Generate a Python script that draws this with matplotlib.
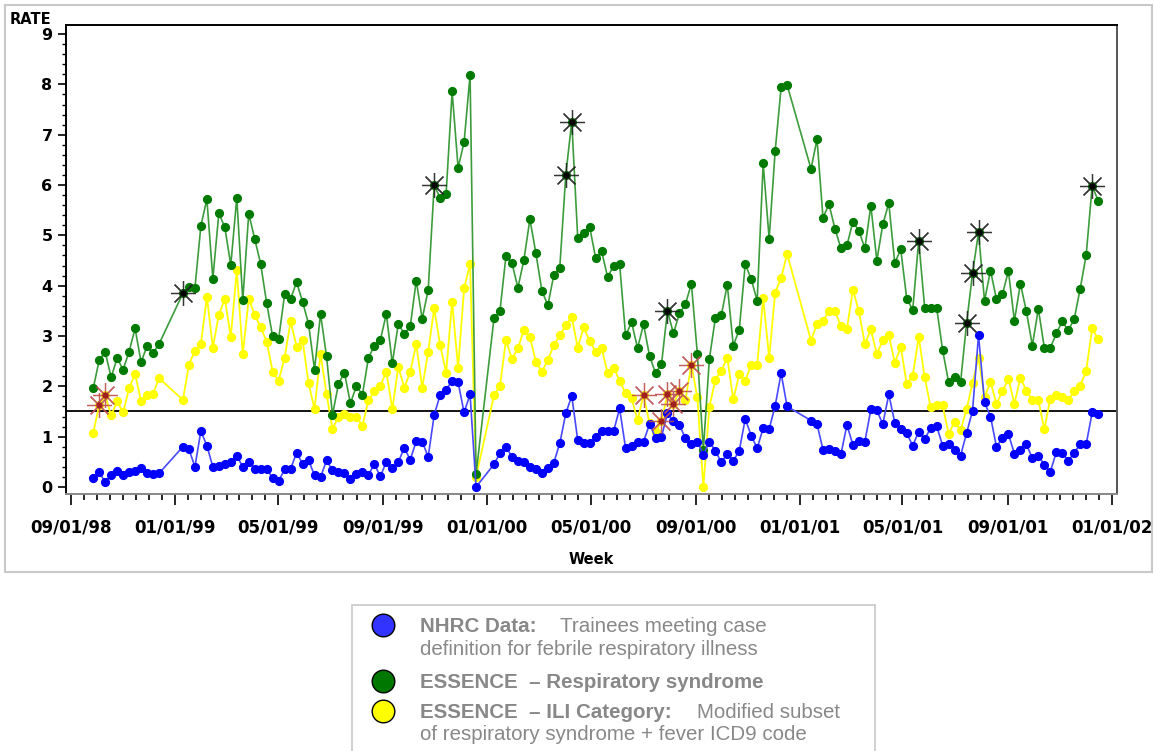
import datetime as dt
import numpy as np
import matplotlib
matplotlib.use("Agg")
import matplotlib.pyplot as plt
import matplotlib.dates as mdates
from matplotlib.lines import Line2D
from matplotlib.patches import Rectangle
from matplotlib.ticker import FixedLocator

# Weekly surveillance rates, one slot per week starting 1998-09-27 (None = no report)
first_week = dt.date(1998, 9, 27)

nhrc_rate = [
    0.17, 0.30, 0.09, 0.24, 0.32, 0.24, 0.29, 0.32, 0.37, 0.27, 0.25, 0.27,
    None, None, None,
    0.80, 0.75, 0.40, 1.11, 0.82, 0.40, 0.42, 0.45, 0.49, 0.62, 0.40, 0.50, 0.36, 0.36, 0.36, 0.17, 0.12,
    0.35, 0.36, 0.68, 0.46, 0.53, 0.23, 0.19, 0.53, 0.33, 0.29, 0.28, 0.16, 0.25, 0.29, 0.24, 0.45,
    0.21, 0.50, 0.38, 0.49, 0.78, 0.54, 0.91, 0.90, 0.60, 1.43, 1.83, 1.93, 2.11, 2.08, 1.48, 1.84, 0.00,
    None, None,
    0.45, 0.67, 0.80, 0.60, 0.52, 0.50, 0.40, 0.35, 0.27, 0.38, 0.48, 0.87, 1.46, 1.81, 0.93, 0.87,
    0.87, 0.99, 1.11, 1.11, 1.11, 1.56, 0.77, 0.82, 0.90, 0.90, 1.25, 0.98, 1.00, 1.46, 1.31, 1.23,
    0.97, 0.85, 0.90,
    0.64, 0.90, 0.72, 0.49, 0.66, 0.52, 0.72, 1.35, 1.02, 0.77, 1.17, 1.15, 1.61, 2.26, 1.60,
    None, None, None,
    1.32, 1.25, 0.74, 0.76, 0.72, 0.65, 1.23, 0.84, 0.92, 0.90, 1.54, 1.52, 1.25, 1.84, 1.28, 1.15, 1.07,
    0.82, 1.10, 0.95, 1.17, 1.21, 0.82, 0.85, 0.74, 0.62, 1.07, 1.51, 3.02, 1.68, 1.40, 0.80, 0.97,
    1.05, 0.66, 0.74, 0.85, 0.57, 0.62, 0.44, 0.30, 0.69, 0.68, 0.52, 0.68, 0.85, 0.85, 1.48, 1.44,
]

resp_rate = [
    1.96, 2.52, 2.68, 2.18, 2.56, 2.33, 2.69, 3.15, 2.48, 2.80, 2.66, 2.84,
    None, None, None,
    3.85, 3.98, 3.95, 5.19, 5.72, 4.14, 5.44, 5.16, 4.41, 5.75, 3.71, 5.43, 4.93, 4.43, 3.65, 2.99, 2.94,
    3.83, 3.74, 4.07, 3.68, 3.24, 2.33, 3.44, 2.60, 1.43, 2.05, 2.27, 1.66, 2.01, 1.83, 2.56, 2.81,
    2.92, 3.44, 2.46, 3.24, 3.04, 3.19, 4.10, 3.34, 3.92, 6.00, 5.74, 5.83, 7.86, 6.34, 6.85, 8.19, 0.25,
    None, None,
    3.35, 3.50, 4.59, 4.45, 3.96, 4.51, 5.32, 4.65, 3.90, 3.61, 4.21, 4.36, 6.20, 7.26, 4.94, 5.04,
    5.16, 4.55, 4.68, 4.17, 4.40, 4.43, 3.01, 3.27, 2.76, 3.23, 2.61, 2.26, 2.44, 3.50, 3.05, 3.45,
    3.63, 4.04, 2.64,
    0.74, 2.54, 3.35, 3.41, 4.02, 2.81, 3.12, 4.43, 4.13, 3.70, 6.43, 4.93, 6.67, 7.94, 7.99,
    None, None, None,
    6.32, 6.91, 5.35, 5.62, 5.13, 4.74, 4.80, 5.27, 5.09, 4.74, 5.59, 4.50, 5.22, 5.64, 4.45, 4.72, 3.74,
    3.52, 4.89, 3.56, 3.55, 3.56, 2.72, 2.08, 2.18, 2.08, 3.25, 4.25, 5.06, 3.70, 4.30, 3.73, 3.83,
    4.29, 3.30, 4.04, 3.49, 2.81, 3.54, 2.77, 2.76, 3.05, 3.29, 3.11, 3.34, 3.94, 4.61, 5.98, 5.69,
]

ili_rate = [
    1.07, 1.63, 1.82, 1.42, 1.70, 1.48, 1.96, 2.25, 1.70, 1.82, 1.85, 2.16,
    None, None, None,
    1.73, 2.43, 2.71, 2.84, 3.78, 2.77, 3.42, 3.74, 2.98, 4.31, 2.64, 3.74, 3.42, 3.17, 2.89, 2.29, 2.11,
    2.57, 3.29, 2.79, 2.92, 2.06, 1.55, 2.64, 1.85, 1.15, 1.40, 1.44, 1.40, 1.40, 1.21, 1.72, 1.90,
    2.01, 2.29, 1.55, 2.39, 1.97, 2.29, 2.84, 1.97, 2.69, 3.55, 2.82, 2.27, 3.68, 2.36, 3.95, 4.43, 0.20,
    None, None,
    1.82, 2.01, 2.92, 2.54, 2.76, 3.12, 2.98, 2.49, 2.29, 2.52, 2.82, 3.01, 3.22, 3.37, 2.77, 3.17,
    2.90, 2.69, 2.76, 2.26, 2.37, 2.11, 1.86, 1.76, 1.33, 1.82, 1.27, 1.09, 1.31, 1.84, 1.64, 1.91,
    1.73, 2.43, 1.78,
    0.00, 1.58, 2.13, 2.31, 2.57, 1.74, 2.24, 2.11, 2.43, 2.43, 3.75, 2.57, 3.86, 4.15, 4.63,
    None, None, None,
    2.91, 3.24, 3.29, 3.50, 3.50, 3.19, 3.14, 3.92, 3.49, 2.84, 3.13, 2.64, 2.92, 3.02, 2.47, 2.78, 2.05,
    2.21, 2.98, 2.18, 1.58, 1.62, 1.62, 1.05, 1.30, 1.13, 1.54, 2.07, 2.57, 1.78, 2.09, 1.65, 1.90,
    2.15, 1.65, 2.17, 1.91, 1.73, 1.72, 1.15, 1.75, 1.83, 1.78, 1.73, 1.90, 2.01, 2.31, 3.15, 2.94,
]

# Weeks flagged as alerts on each ESSENCE series
resp_alert_weeks = [15, 57, 79, 80, 96, 138, 146, 147, 148, 167]
ili_alert_weeks = [1, 2, 92, 95, 96, 97, 98, 100]

threshold = 1.5
x_tick_labels = ["09/01/98", "01/01/99", "05/01/99", "09/01/99", "01/01/00",
                 "05/01/00", "09/01/00", "01/01/01", "05/01/01", "09/01/01", "01/01/02"]
y_tick_labels = ["0", "1", "2", "3", "4", "5", "6", "7", "8", "9"]

W, H = 1154, 751


def fx(px):
    return px / W


def fy(py):
    return 1 - py / H


week_dates = [first_week + dt.timedelta(days=7 * i) for i in range(len(resp_rate))]


def series(values):
    pts = [(week_dates[i], v) for i, v in enumerate(values) if v is not None]
    return [p[0] for p in pts], [p[1] for p in pts]


fig = plt.figure(figsize=(W / 100, H / 100), dpi=100)
ax = fig.add_axes([fx(65.7), fy(494), fx(1116.7) - fx(65.7), fy(25) - fy(494)])

# threshold line
ax.axhline(threshold, color="black", lw=1.3, zorder=1)

yd, yv = series(ili_rate)
ax.plot(yd, yv, color="#ffff00", lw=1.3, marker="o", ms=5.6, mfc="#ffff00", mec="#ffff00", zorder=2)
gd, gv = series(resp_rate)
ax.plot(gd, gv, color="#3c9c3c", lw=1.2, marker="o", ms=5.6, mfc="#007a00", mec="#007a00", zorder=3)
bd, bv = series(nhrc_rate)
ax.plot(bd, bv, color="#4848ff", lw=1.2, marker="o", ms=5.6, mfc="#0000ff", mec="#0000ff", zorder=4)

# alert markers
rx = [week_dates[i] for i in ili_alert_weeks]
ry = [ili_rate[i] for i in ili_alert_weeks]
ax.plot(rx, ry, ls="none", marker=(8, 2, 0), ms=18, mew=0.9, mec="#c05050", alpha=0.9, zorder=5)
ax.plot(rx, ry, ls="none", marker="o", ms=3.5, mfc="#a02020", mec="#a02020", zorder=6)

sx = [week_dates[i] for i in resp_alert_weeks]
sy = [resp_rate[i] for i in resp_alert_weeks]
ax.plot(sx, sy, ls="none", marker=(8, 2, 0), ms=18, mew=0.9, mec="#202020", alpha=0.9, zorder=5)
ax.plot(sx, sy, ls="none", marker="o", ms=3.5, mfc="black", mec="black", zorder=6)

# axes limits
origin = dt.date(1998, 9, 1)
x0 = mdates.date2num(origin) - 6.2
x1 = mdates.date2num(origin) + 1223.7
ax.set_xlim(x0, x1)
ax.set_ylim(-0.14, 9.18)

major_dates = [dt.date(1998 + (8 + 4 * k) // 12, (8 + 4 * k) % 12 + 1, 1) for k in range(len(x_tick_labels))]
major_nums = mdates.date2num(major_dates)
minor_nums = []
for a, b in zip(major_nums[:-1], major_nums[1:]):
    minor_nums.extend(np.linspace(a, b, 9)[1:-1])
ax.xaxis.set_major_locator(FixedLocator(major_nums))
ax.xaxis.set_minor_locator(FixedLocator(minor_nums))
ax.set_xticklabels(x_tick_labels)

ax.yaxis.set_major_locator(FixedLocator(range(len(y_tick_labels))))
ax.set_yticklabels(y_tick_labels)
ax.yaxis.set_minor_locator(FixedLocator(np.arange(0.2, 9.0, 0.2)))

ax.tick_params(axis="x", which="major", direction="out", length=8, width=1.2, pad=10,
               labelsize=12, color="black")
ax.tick_params(axis="x", which="minor", direction="out", length=4.5, width=1.2, color="black")
ax.tick_params(axis="y", which="major", direction="out", length=5.5, width=1.2, pad=4,
               labelsize=11.5, color="black")
ax.tick_params(axis="y", which="minor", direction="out", length=2.6, width=1.0, color="black")
for lab in ax.get_xticklabels() + ax.get_yticklabels():
    lab.set_fontweight("bold")
    lab.set_family("DejaVu Sans")

for side, col in (("left", "black"), ("top", "black"), ("right", "#555555"), ("bottom", "#888888")):
    ax.spines[side].set_color(col)
    ax.spines[side].set_linewidth(1.4)

fig.text(fx(9.5), fy(20), "RATE", fontsize=10.5, fontweight="bold", ha="left", va="center")
fig.text(fx(591), fy(560), "Week", fontsize=10.5, fontweight="bold", ha="center", va="center")

# outer panel frame
fig.add_artist(Rectangle((fx(5), fy(572)), fx(1152) - fx(5), fy(5) - fy(572),
                         transform=fig.transFigure, fill=False, ec="#c8c8c8", lw=1.5))

# key box
fig.add_artist(Rectangle((fx(352), -0.01), fx(875) - fx(352), fy(605) + 0.01,
                         transform=fig.transFigure, fill=False, ec="#c8c8c8", lw=1.2))

key_items = [(625, "#3333ff"), (681, "#007700"), (711, "#ffff00")]
for yc, colr in key_items:
    fig.add_artist(Line2D([fx(383)], [fy(yc)], marker="o", ms=16.3, mfc=colr, mec="black",
                          mew=1.0, transform=fig.transFigure, ls="none"))

txt = dict(fontsize=14.8, family="Liberation Sans", color="#888888", va="baseline", ha="left")
fig.text(fx(420), fy(632), "NHRC Data:", fontweight="bold", **txt)
fig.text(fx(560), fy(632), "Trainees meeting case", **txt)
fig.text(fx(420), fy(655), "definition for febrile respiratory illness", **txt)
fig.text(fx(420), fy(688), "ESSENCE  \u2013 Respiratory syndrome", fontweight="bold", **txt)
fig.text(fx(420), fy(718), "ESSENCE  \u2013 ILI Category:", fontweight="bold", **txt)
fig.text(fx(697), fy(718), "Modified subset", **txt)
fig.text(fx(420), fy(740), "of respiratory syndrome + fever ICD9 code", **txt)

fig.savefig("out.png", dpi=100)
